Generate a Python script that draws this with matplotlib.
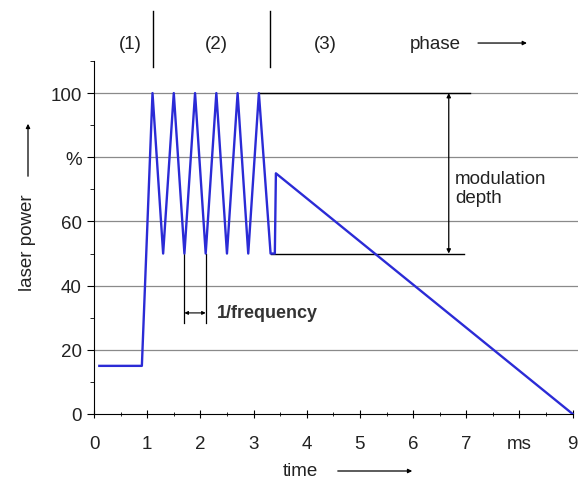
import matplotlib
matplotlib.use("Agg")
import matplotlib.pyplot as plt
import numpy as np

plt.rcParams['font.family'] = ['Liberation Sans', 'DejaVu Sans']

# laser power curve (ms, %)
time_ms = [0.1, 0.9, 1.1, 1.3, 1.5, 1.7, 1.9, 2.1, 2.3, 2.5, 2.7, 2.9, 3.1, 3.32, 3.4, 3.42, 9.0]
power = [15, 15, 100, 50, 100, 50, 100, 50, 100, 50, 100, 50, 100, 50, 50, 75, 0]

x_ticks = [0, 1, 2, 3, 4, 5, 6, 7, 8, 9]
x_labels = ['0', '1', '2', '3', '4', '5', '6', '7', 'ms', '9']
y_ticks = [0, 20, 40, 60, 80, 100]
y_labels = ['0', '20', '40', '60', '%', '100']

phase_bounds = [1.1, 3.3]
phase_names = ['(1)', '(2)', '(3)']
phase_pos = [0.68, 2.31, 4.34]

FS = 13.5
TXT = '#222222'

fig = plt.figure(figsize=(5.78, 4.81), dpi=100)
ax = fig.add_axes([94 / 578, 1 - 415 / 481, 484 / 578, 353 / 481])
ax.set_xlim(0, 9.1)
ax.set_ylim(0, 110)

for y in [20, 40, 60, 80, 100]:
    ax.axhline(y, color='#8a8a8a', lw=0.9, zorder=1)

ax.plot(time_ms, power, color='#2b2bd6', lw=1.7, zorder=3)

# modulation depth markers
ax.plot([3.1, 7.07], [100, 100], color='black', lw=1.0, zorder=2)
ax.plot([3.32, 6.95], [50, 50], color='black', lw=1.0, zorder=2)
ax.annotate('', xy=(6.67, 100), xytext=(6.67, 50),
            arrowprops=dict(arrowstyle='<|-|>', color='black', lw=0.9,
                            mutation_scale=6, shrinkA=0, shrinkB=0))
ax.text(6.79, 70.5, 'modulation\ndepth', fontsize=FS, va='center', ha='left',
        linespacing=1.15, color=TXT)

# 1/frequency markers
for xv in [1.7, 2.1]:
    ax.plot([xv, xv], [50, 28.3], color='black', lw=0.9, zorder=2)
ax.annotate('', xy=(1.7, 31.5), xytext=(2.1, 31.5),
            arrowprops=dict(arrowstyle='<|-|>', color='black', lw=0.8,
                            mutation_scale=5, shrinkA=0, shrinkB=0))
ax.text(2.31, 31.5, '1/frequency', fontsize=13, va='center', ha='left',
        fontweight='bold', color='#333333')

# phases above the plot
for xb in phase_bounds:
    ax.plot([xb, xb], [108, 125.5], color='black', lw=1.0, clip_on=False)
for name, xp in zip(phase_names, phase_pos):
    ax.text(xp, 115.3, name, fontsize=FS, ha='center', va='center', color=TXT)
ax.text(6.41, 115.3, 'phase', fontsize=FS, ha='center', va='center', color=TXT)
ax.annotate('', xy=(8.14, 115.6), xytext=(7.22, 115.6), annotation_clip=False,
            arrowprops=dict(arrowstyle='-|>', color='black', lw=0.9,
                            mutation_scale=6, shrinkA=0, shrinkB=0))

ax.spines['top'].set_visible(False)
ax.spines['right'].set_visible(False)
ax.spines['bottom'].set_bounds(0, 9)

ax.set_xticks(x_ticks)
ax.set_xticklabels(x_labels, fontsize=FS, color=TXT)
ax.set_xticks(np.arange(0.5, 9, 1.0), minor=True)
ax.set_yticks(y_ticks)
ax.set_yticklabels(y_labels, fontsize=FS, color=TXT)
ax.set_yticks([10, 30, 50, 70, 90, 110], minor=True)
ax.tick_params(axis='x', which='major', direction='inout', length=6, pad=12)
ax.tick_params(axis='x', which='minor', direction='inout', length=3)
ax.tick_params(axis='y', which='major', direction='out', length=5, pad=4)
ax.tick_params(axis='y', which='minor', direction='out', length=3)

# axis labels with arrows
fig.text(300 / 578, 1 - 472 / 481, 'time', fontsize=FS, ha='center', va='center',
         color=TXT)
fig.add_artist(matplotlib.patches.FancyArrowPatch(
    (335 / 578, 1 - 472 / 481), (415 / 578, 1 - 472 / 481),
    transform=fig.transFigure, arrowstyle='-|>', mutation_scale=6,
    color='black', lw=0.9))
fig.text(28 / 578, 1 - 243 / 481, 'laser power', fontsize=FS, rotation=90,
         ha='center', va='center', color=TXT)
fig.add_artist(matplotlib.patches.FancyArrowPatch(
    (28 / 578, 1 - 180 / 481), (28 / 578, 1 - 122 / 481),
    transform=fig.transFigure, arrowstyle='-|>', mutation_scale=6,
    color='black', lw=0.9))

fig.savefig('out.png', dpi=100)
